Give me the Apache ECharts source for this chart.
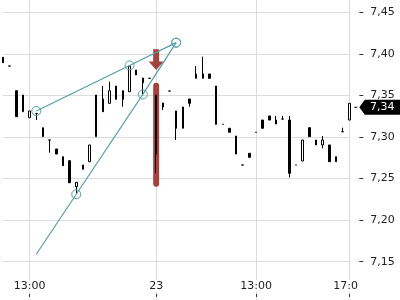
<!DOCTYPE html>
<html><head><meta charset="utf-8">
<script src="https://cdn.jsdelivr.net/npm/echarts@6/dist/echarts.min.js"></script>
<style>html,body{margin:0;padding:0;background:#fff}#c{width:400px;height:300px}</style>
</head><body><div id="c"></div>
<script>
// bar slots (category index)
const categories = Array.from({length: 53}, (_, i) => 'b' + i);
const opens  = [7.3959,7.3854,7.3557,7.3304,7.3232,7.3283,7.3004,7.2964,7.2856,7.2763,7.2715,7.2402,7.2611,7.2703,7.3004,7.3457,7.3405,7.3613,7.3557,7.3545,7.3806,7.3710,7.3706,7.3505,7.3409,7.3553,7.3313,7.3105,7.3457,7.3758,7.3758,7.3758,7.3613,7.3153,7.3105,7.3012,7.2663,7.2804,7.3057,7.3204,7.3253,7.3156,7.3216,7.3204,7.2663,7.2711,7.3112,7.2904,7.2904,7.2904,7.2703,7.3064,7.3204];
const closes = [7.3894,7.3854,7.3244,7.3505,7.3313,7.3283,7.3112,7.2964,7.2795,7.2655,7.2450,7.2455,7.2663,7.2904,7.3505,7.3304,7.3557,7.3453,7.3453,7.3854,7.3746,7.3653,7.3706,7.2795,7.3361,7.3553,7.3105,7.3361,7.3405,7.3706,7.3706,7.3706,7.3153,7.3153,7.3057,7.2795,7.2663,7.2756,7.3057,7.3105,7.3204,7.3204,7.3216,7.2563,7.2663,7.2964,7.3004,7.2964,7.2964,7.2703,7.2763,7.3064,7.3405];
const lows   = [7.3894,7.3854,7.3244,7.3304,7.3232,7.3204,7.3004,7.2811,7.2795,7.2655,7.2450,7.2326,7.2611,7.2703,7.3004,7.3304,7.3405,7.3453,7.3364,7.3545,7.3746,7.3505,7.3706,7.2567,7.3325,7.3553,7.2964,7.3105,7.3364,7.3706,7.3706,7.3706,7.3153,7.3153,7.3057,7.2795,7.2663,7.2756,7.3057,7.3105,7.3204,7.3156,7.3216,7.2515,7.2663,7.2711,7.3004,7.2904,7.2864,7.2703,7.2703,7.3064,7.3204];
const highs  = [7.3959,7.3854,7.3557,7.3505,7.3313,7.3290,7.3112,7.2964,7.2856,7.2763,7.2715,7.2455,7.2663,7.2904,7.3505,7.3613,7.3665,7.3613,7.3557,7.3854,7.3806,7.3710,7.3706,7.3505,7.3409,7.3553,7.3313,7.3361,7.3457,7.3854,7.3966,7.3758,7.3613,7.3153,7.3105,7.3012,7.2663,7.2804,7.3057,7.3204,7.3253,7.3253,7.3253,7.3253,7.2663,7.2964,7.3112,7.2964,7.3012,7.2904,7.2763,7.3112,7.3405];

const tickIndex = [4, 23, 38, 52];
const tickText  = ['13:00', '23', '13:00', '17:0'];

const trendA = [[5, 7.3313], [19, 7.3861], [26, 7.4135]];
const trendB = [[5, 7.1590], [11, 7.2311], [21, 7.3512], [26, 7.4135]];
const trendBNoSymbol = [0];

// [index, pillTop, pillBottom, arrowTop, arrowTip]
const highlight = [23, 7.3653, 7.2402, 7.4055, 7.3806];
const lastPrice = 7.3357;

const fmt = v => v.toFixed(2).replace('.', ',');
const TEAL = '#56a0a7';
const RED = '#a3433d';

const chart = echarts.init(document.getElementById('c'), null, {renderer: 'canvas'});
chart.setOption({
  animation: false,
  backgroundColor: '#fff',
  textStyle: {fontFamily: 'DejaVu Sans'},
  grid: {left: 3, right: 50.7, top: -29.27, bottom: -3.27, outerBoundsMode: 'none', containLabel: false},
  xAxis: {
    type: 'category', data: categories, boundaryGap: false, offset: -9.3,
    axisLine: {show: false},
    axisTick: {show: true, length: 3, interval: i => tickIndex.includes(i), lineStyle: {color: '#333'}},
    axisLabel: {
      inside: true, margin: 2, fontSize: 11, color: '#222', fontFamily: 'DejaVu Sans',
      interval: i => tickIndex.includes(i),
      backgroundColor: '#fff', padding: [1, 1, 0, 1],
      formatter: (v, i) => {
        const k = tickIndex.indexOf(i);
        if (k < 0) return '';
        return i === 52 ? '{r|' + tickText[k] + '}' : tickText[k];
      },
      rich: {r: {width: 32, align: 'left', fontSize: 11, color: '#222', fontFamily: 'DejaVu Sans'}}
    },
    splitLine: {show: true, interval: i => tickIndex.includes(i), lineStyle: {color: '#dcdcdc', width: 1}}
  },
  yAxis: {
    type: 'value', position: 'right', min: 7.10, max: 7.50, interval: 0.05, offset: 10,
    axisLine: {show: false},
    axisTick: {show: true, length: 4, lineStyle: {color: '#333'}},
    axisLabel: {margin: 11, fontSize: 11, color: '#222', fontFamily: 'DejaVu Sans',
      showMinLabel: false, showMaxLabel: false, formatter: fmt},
    splitLine: {show: true, lineStyle: {color: '#dcdcdc', width: 1}}
  },
  series: [
    {
      type: 'custom', z: 1, silent: true, clip: false,
      data: [highlight],
      renderItem: (params, api) => {
        const i = api.value(0);
        const pTop = api.coord([i, api.value(1)]);
        const pBot = api.coord([i, api.value(2)]);
        const aTop = api.coord([i, api.value(3)]);
        const aTip = api.coord([i, api.value(4)]);
        const cx = pTop[0];
        const hh = 8.5;
        return {type: 'group', children: [
          {type: 'rect', shape: {x: cx - 3, y: pTop[1], width: 6, height: pBot[1] - pTop[1], r: 3}, style: {fill: RED}},
          {type: 'polygon', shape: {points: [
            [cx - 3, aTop[1]], [cx + 3, aTop[1]], [cx + 3, aTip[1] - hh], [cx + 7.5, aTip[1] - hh],
            [cx, aTip[1]], [cx - 7.5, aTip[1] - hh], [cx - 3, aTip[1] - hh]]}, style: {fill: RED}}
        ]};
      }
    },
    {
      type: 'candlestick', z: 2, clip: false, barWidth: 2,
      data: opens.map((o, i) => [o, closes[i], lows[i], highs[i]]),
      itemStyle: {color: '#fff', color0: '#000', borderColor: '#000', borderColor0: '#000', borderColorDoji: '#000', borderWidth: 1},
      markPoint: {
        silent: true, animation: false,
        symbol: 'path://M0,7 L3,7 L3,8 L0,8 Z M5,7.5 L10.5,0 L46,0 L46,15 L10.5,15 Z',
        symbolSize: [46, 15], symbolOffset: [28, 0],
        itemStyle: {color: '#000'},
        label: {show: true, position: 'inside', offset: [5, 0], color: '#fff', fontSize: 11, fontFamily: 'DejaVu Sans', formatter: p => fmt(p.value)},
        data: [{coord: [52, lastPrice], value: lastPrice}]
      }
    },
    {
      type: 'line', z: 3, silent: true, clip: false,
      data: trendA, symbol: 'circle', symbolSize: 9, showAllSymbol: true,
      lineStyle: {color: TEAL, width: 1.2},
      itemStyle: {color: 'rgba(0,0,0,0)', borderColor: TEAL, borderWidth: 1}
    },
    {
      type: 'line', z: 3, silent: true, clip: false,
      data: trendB.map((p, i) => trendBNoSymbol.includes(i) ? {value: p, symbol: 'none'} : p),
      symbol: 'circle', symbolSize: 9, showAllSymbol: true,
      lineStyle: {color: TEAL, width: 1.2},
      itemStyle: {color: 'rgba(0,0,0,0)', borderColor: TEAL, borderWidth: 1}
    }
  ]
});
</script></body></html>
